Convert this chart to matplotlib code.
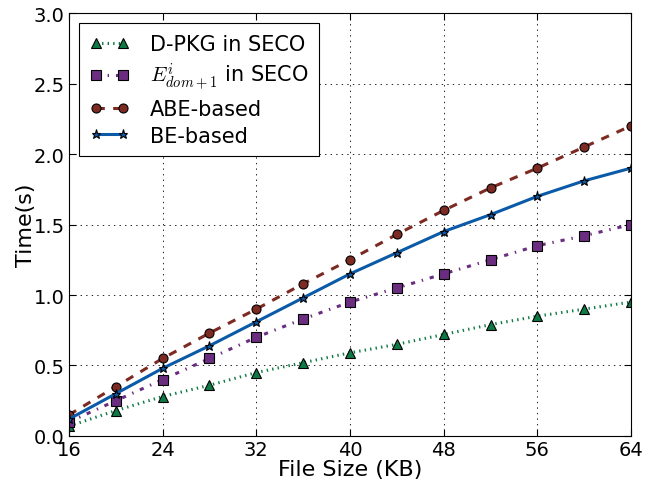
import matplotlib
matplotlib.use("Agg")
import matplotlib.pyplot as plt

file_size = [16, 20, 24, 28, 32, 36, 40, 44, 48, 52, 56, 60, 64]
dpkg = [0.07, 0.18, 0.28, 0.36, 0.45, 0.52, 0.59, 0.65, 0.72, 0.79, 0.85, 0.90, 0.95]
edom = [0.10, 0.25, 0.40, 0.55, 0.70, 0.83, 0.95, 1.05, 1.15, 1.25, 1.35, 1.42, 1.50]
abe = [0.15, 0.35, 0.55, 0.73, 0.90, 1.08, 1.25, 1.43, 1.60, 1.76, 1.90, 2.05, 2.20]
be = [0.12, 0.30, 0.48, 0.64, 0.81, 0.98, 1.15, 1.30, 1.45, 1.57, 1.70, 1.81, 1.90]
xticks = [16, 24, 32, 40, 48, 56, 64]
yticks = [0.0, 0.5, 1.0, 1.5, 2.0, 2.5, 3.0]

plt.rcParams['mathtext.fontset'] = 'cm'
plt.rcParams['font.family'] = 'DejaVu Sans'
plt.rcParams['lines.scale_dashes'] = False

fig = plt.figure(figsize=(6.55, 4.85), dpi=100)
ax = fig.add_axes([0.1053, 0.099, 0.8581, 0.872])

common = dict(lw=2.2, ms=6.5, mec='black', mew=0.8)
ax.plot(file_size, dpkg, linestyle=(0, (1, 3)), color='#0d7a45', marker='^',
        mfc='#0d7a45', label='D-PKG in SECO', **common)
ax.plot(file_size, edom, linestyle=(0, (3, 5, 1, 5)), color='#6b2d80', marker='s',
        mfc='#6b2d80', label=r'$E^{i}_{dom+1}$ in SECO', **common)
ax.plot(file_size, abe, linestyle=(0, (6, 6)), color='#7d2a22', marker='o',
        mfc='#7d2a22', label='ABE-based', **common)
ax.plot(file_size, be, linestyle='-', color='#0a5aa8', marker='*',
        mfc='#0a5aa8', label='BE-based', **common)

ax.set_xlim(16, 64)
ax.set_ylim(0, 3.0)
ax.set_xticks(xticks)
ax.set_yticks(yticks)
ax.set_xticklabels([str(t) for t in xticks], fontsize=14)
ax.set_yticklabels([f'{t:.1f}' for t in yticks], fontsize=14)
ax.tick_params(direction='in', length=5, top=True, right=True, pad=3)
ax.grid(True, linestyle=(0, (1, 3)), color='black', linewidth=0.6)
ax.set_xlabel('File Size (KB)', fontsize=16, labelpad=0)
ax.set_ylabel('Time(s)', fontsize=16, labelpad=-2)

leg = ax.legend(loc='upper left', fontsize=15, fancybox=False, framealpha=1,
                edgecolor='black', borderaxespad=0.5, handlelength=1.9,
                handletextpad=1.0, numpoints=2, labelspacing=0.32, borderpad=0.5)
leg.get_frame().set_linewidth(0.8)

fig.savefig('out.png', dpi=100)
